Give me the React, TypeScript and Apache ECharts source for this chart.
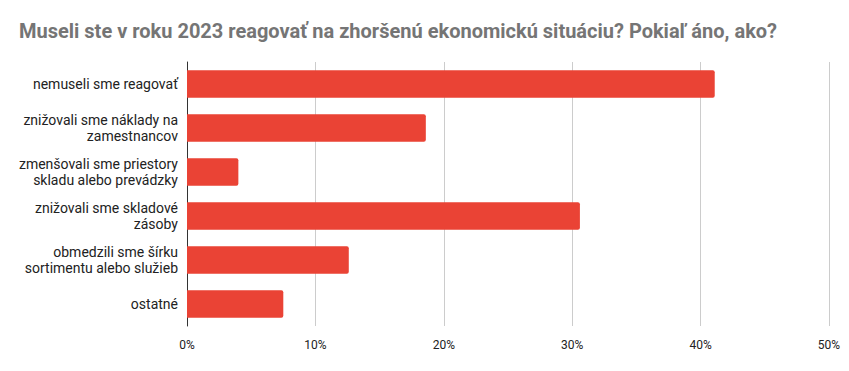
import React, { useEffect, useRef } from "react";
import * as echarts from "echarts";

const title = "Museli ste v roku 2023 reagovať na zhoršenú ekonomickú situáciu? Pokiaľ áno, ako?";
const categories = [
  "nemuseli sme reagovať",
  "znižovali sme náklady na\nzamestnancov",
  "zmenšovali sme priestory\nskladu alebo prevádzky",
  "znižovali sme skladové\nzásoby",
  "obmedzili sme šírku\nsortimentu alebo služieb",
  "ostatné",
];
const values = [41.1, 18.6, 4.0, 30.6, 12.6, 7.5];
const xTicks = [0, 10, 20, 30, 40, 50];

export default function App() {
  const ref = useRef<HTMLDivElement>(null);
  useEffect(() => {
    document.body.style.margin = "0";
    const chart = echarts.init(ref.current!, null, { renderer: "svg" });
    chart.setOption({
      animation: false,
      textStyle: { fontFamily: "Roboto" },
      title: {
        text: title,
        left: 19,
        top: 21,
        padding: 0,
        textStyle: { fontFamily: "Roboto", fontSize: 20, fontWeight: "bold", color: "#757575" },
      },
      grid: { left: 187, right: 20, top: 62, height: 264, containLabel: false },
      xAxis: {
        type: "value",
        min: xTicks[0],
        max: xTicks[xTicks.length - 1],
        interval: 10,
        axisLine: { show: false },
        axisTick: { show: false },
        splitLine: { show: true, lineStyle: { color: "#cccccc", width: 1 } },
        axisLabel: {
          formatter: (v: number) => `${v}%`,
          color: "#222222",
          fontSize: 12,
          margin: 13,
          fontFamily: "Roboto",
        },
      },
      yAxis: {
        type: "category",
        data: categories,
        inverse: true,
        axisLine: { show: true, lineStyle: { color: "#333333", width: 1 } },
        axisTick: { show: false },
        axisLabel: {
          color: "#222222",
          fontSize: 14,
          margin: 9,
          lineHeight: 16,
          align: "right",
          fontFamily: "Roboto",
        },
      },
      series: [
        {
          type: "bar",
          data: values,
          barCategoryGap: "37.5%",
          itemStyle: { color: "#EA4335", borderRadius: [0, 2, 2, 0] },
        },
      ],
    });
    return () => chart.dispose();
  }, []);
  return <div ref={ref} style={{ width: 849, height: 371 }} />;
}
